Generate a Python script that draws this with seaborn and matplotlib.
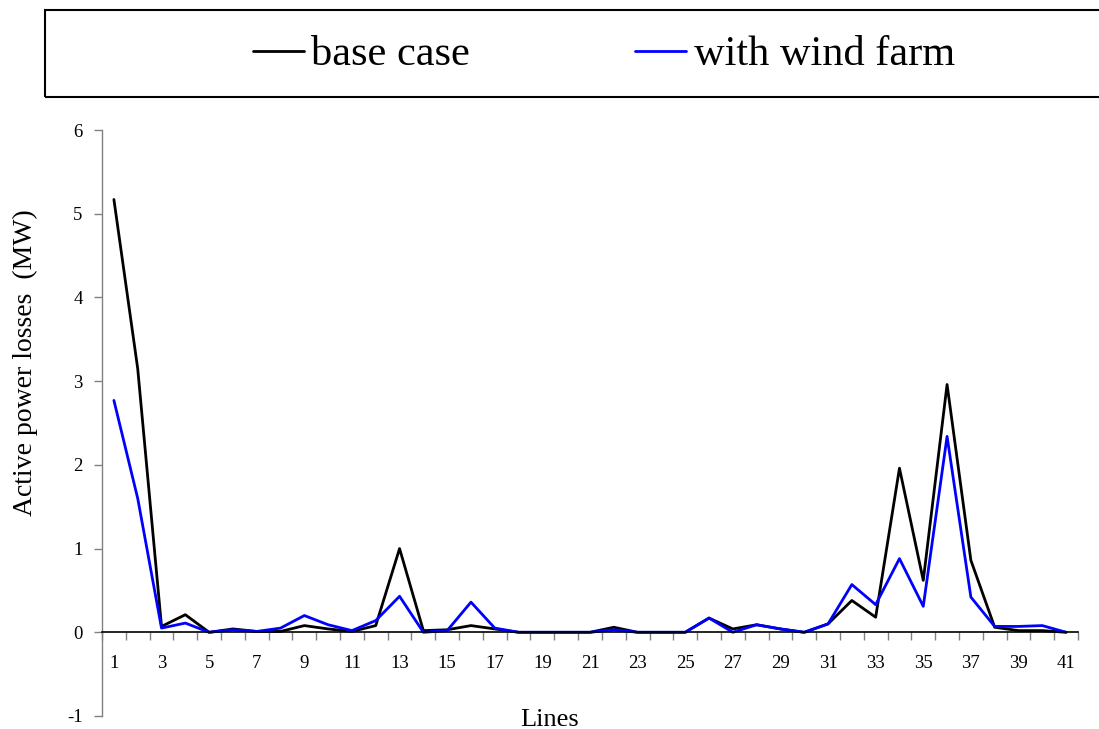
import numpy as np
import pandas as pd
import matplotlib
matplotlib.use("Agg")
import matplotlib.pyplot as plt
import seaborn as sns
from matplotlib.patches import Rectangle

lines = list(range(1, 42))
base_case = [5.17, 3.15, 0.07, 0.21, 0.0, 0.04, 0.01, 0.01, 0.08, 0.04,
             0.01, 0.08, 1.0, 0.02, 0.03, 0.08, 0.04, 0.0, 0.0, 0.0,
             0.0, 0.06, 0.0, 0.0, 0.0, 0.17, 0.04, 0.09, 0.04, 0.0,
             0.1, 0.38, 0.18, 1.96, 0.62, 2.96, 0.86, 0.06, 0.02, 0.02, 0.0]
with_wind = [2.77, 1.6, 0.05, 0.11, 0.0, 0.03, 0.01, 0.05, 0.2, 0.09,
             0.02, 0.14, 0.43, 0.0, 0.02, 0.36, 0.05, 0.0, 0.0, 0.0,
             0.0, 0.03, 0.0, 0.0, 0.0, 0.17, 0.0, 0.09, 0.04, 0.0,
             0.1, 0.57, 0.33, 0.88, 0.31, 2.34, 0.42, 0.07, 0.07, 0.08, 0.0]
series_names = ["base case", "with wind farm"]
colors = ["#000000", "#0000ff"]
yticks = [-1, 0, 1, 2, 3, 4, 5, 6]
xtick_labels = [str(v) for v in lines if v % 2 == 1]

df = pd.DataFrame({
    "Line": lines * 2,
    "Loss": base_case + with_wind,
    "Series": [series_names[0]] * len(lines) + [series_names[1]] * len(lines),
})

sns.set_style("white")
plt.rcParams["font.family"] = ["Liberation Serif", "DejaVu Serif"]
plt.rcParams["text.color"] = "black"
plt.rcParams["xtick.color"] = "black"
plt.rcParams["ytick.color"] = "black"
plt.rcParams["axes.labelcolor"] = "black"

fig = plt.figure(figsize=(10.99, 7.29), dpi=100)
ax = fig.add_axes([102 / 1099, 1 - 716 / 729, (1078 - 102) / 1099, (716 - 130) / 729])

sns.lineplot(data=df, x="Line", y="Loss", hue="Series", palette=colors,
             linewidth=2, ax=ax, legend=True)

ax.set_xlim(0.5, 41.5)
ax.set_ylim(-1, 6)
ax.set_yticks(yticks)
ax.set_yticklabels([str(v) for v in yticks], fontsize=13.5)
ax.tick_params(axis="y", direction="out", length=6, width=1, color="#808080",
               labelcolor="black", left=True, pad=8)

ax.spines["top"].set_visible(False)
ax.spines["right"].set_visible(False)
ax.spines["left"].set_color("#808080")
ax.spines["left"].set_linewidth(1)
ax.spines["bottom"].set_position(("data", 0))
ax.spines["bottom"].set_color("black")
ax.spines["bottom"].set_linewidth(1.2)

ax.set_xticks([v for v in lines if v % 2 == 1])
ax.set_xticklabels(xtick_labels, fontsize=13.5)
ax.set_xticks(np.arange(0.5, 42, 1), minor=True)
ax.tick_params(axis="x", which="major", length=0, pad=16, labelcolor="black")
ax.tick_params(axis="x", which="minor", direction="out", length=6, width=1,
               color="#808080", bottom=True)

ax.set_xlabel("")
ax.set_ylabel("")
fig.text(550 / 1099, 1 - 726 / 729, "Lines", ha="center", va="baseline",
         fontsize=19, color="black")
fig.text(25 / 1099, 1 - 363 / 729, "Active power losses  (MW)", ha="center",
         va="center", rotation=90, fontsize=20, color="black")

handles, labels = ax.get_legend_handles_labels()
ax.get_legend().remove()
fig.patches.append(Rectangle((45 / 1099, 1 - 97 / 729), 1.1, 87 / 729,
                             transform=fig.transFigure, fill=False,
                             edgecolor="black", linewidth=1.5, clip_on=False))
leg = fig.legend(handles, labels, loc="center", bbox_to_anchor=(604 / 1099, 1 - 55 / 729),
                 ncol=2, frameon=False, fontsize=30.5, handlelength=1.2,
                 handletextpad=0.17, columnspacing=3.9)
for t in leg.get_texts():
    t.set_color("black")

fig.savefig("out.png", dpi=100)
